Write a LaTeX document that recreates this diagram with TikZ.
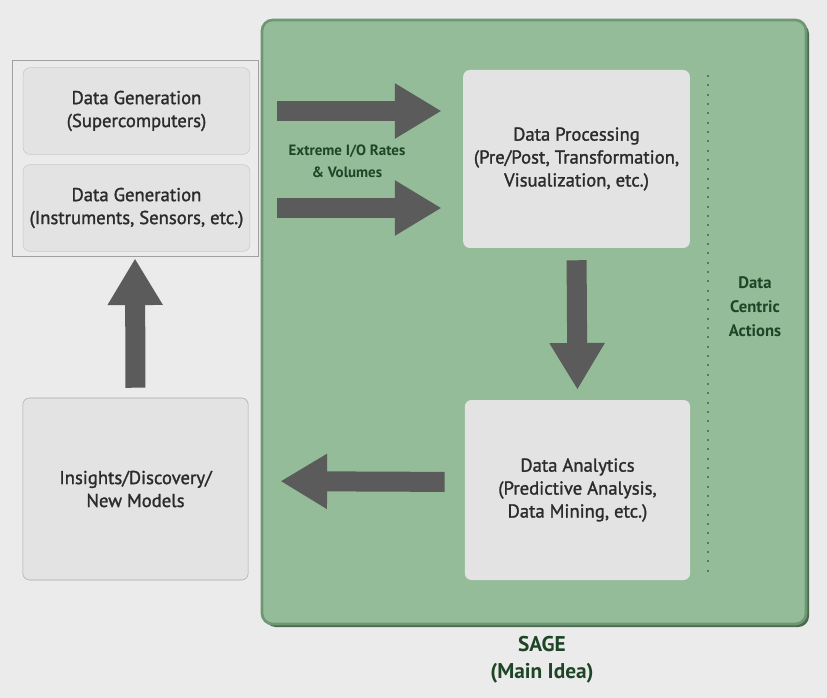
\documentclass[tikz,border=0pt]{standalone}
\usepackage{fontspec}
\setmainfont{PT Sans}
\newfontface\medfont{PT Sans}[FakeBold=1.4]
\usepackage{tikz}
\usetikzlibrary{arrows.meta, positioning}
\definecolor{backgray}{RGB}{235,235,235}
\definecolor{sagegreen}{RGB}{149,188,153}
\definecolor{sageedge}{RGB}{110,152,115}
\definecolor{boxfill}{RGB}{227,227,227}
\definecolor{boxedge}{RGB}{200,200,200}
\definecolor{boxtext}{RGB}{43,43,43}
\definecolor{greentext}{RGB}{29,69,38}
\definecolor{arrowgray}{RGB}{91,91,91}

\begin{document}
\begin{tikzpicture}[x=0.75pt, y=-0.75pt,
			gbox/.style={draw=boxedge, fill=boxfill, rounded corners=5pt, text=boxtext, align=center, inner sep=0pt, font=\medfont\fontsize{14}{17.2}\selectfont},
			blockarrow/.style={draw=arrowgray, line width=15pt, -{Triangle[length=35pt, width=39pt]}},
			greenlabel/.style={text=greentext, align=center, font=\bfseries\fontsize{11.2}{16.5}\selectfont}]
			%Hintergrund
			\useasboundingbox[fill=backgray] (0,0) rectangle (827,698);
			% SAGE Rahmen
			\fill[sageedge!70!black, rounded corners=8pt] (265,23) rectangle (809,627);
			\draw[sageedge, fill=sagegreen, line width=2pt, rounded corners=8pt] (262,20) rectangle (806,624);
			\draw[sageedge!80!black, line width=1.5pt, dash pattern=on 1.5pt off 5.5pt] (708,75) -- (708,575);
			% Kaesten
			\node[draw=boxedge!80!black, line width=0.6pt, minimum width=184.5pt, minimum height=147pt] (genbox) at (135,158) {};
			\node[gbox, minimum width=170pt, minimum height=65pt] (gensuper) at (136.5,111) {Data Generation\\(Supercomputers)};
			\node[gbox, minimum width=170pt, minimum height=65pt] (geninstr) at (136.5,208) {Data Generation\\(Instruments, Sensors, etc.)};
			\node[gbox, draw=boxedge!85!black, minimum width=169pt, minimum height=136.5pt] (insights) at (135.5,489) {Insights/Discovery/\\New Models};
			\node[gbox, draw=none, minimum width=170pt, minimum height=133.5pt] (proc) at (576.5,159) {Data Processing\\(Pre/Post, Transformation,\\Visualization, etc.)};
			\node[gbox, draw=none, minimum width=169pt, minimum height=135pt] (ana) at (577.5,490) {Data Analytics\\(Predictive Analysis,\\Data Mining, etc.)};
			% Beschriftung
			\node[greenlabel] (iolabel) at (347,161) {Extreme I/O Rates\\\& Volumes};
			\node[greenlabel, font=\bfseries\fontsize{12.5}{18}\selectfont] (centric) at (755,307) {Data\\Centric\\Actions};
			\node[text=greentext, align=center, font=\bfseries\fontsize{16}{20}\selectfont] (sage) at (542,660) {SAGE\\(Main Idea)};
			% Pfeile
			\draw[blockarrow, shorten <=14pt, shorten >=16pt] (genbox.east |- gensuper) -- (proc.west |- gensuper);
			\draw[blockarrow, shorten <=14pt, shorten >=16pt] (genbox.east |- geninstr) -- (proc.west |- geninstr);
			\draw[blockarrow, shorten <=9pt, shorten >=7.5pt] (proc.south) -- (ana.north);
			\draw[blockarrow, shorten <=15pt, shorten >=24pt] ([yshift=6pt]ana.west) -- ([yshift=6pt]insights.east);
			\draw[blockarrow, shorten <=7.5pt, shorten >=1.5pt] (insights.north) -- (genbox.south);
		\end{tikzpicture}
\end{document}
